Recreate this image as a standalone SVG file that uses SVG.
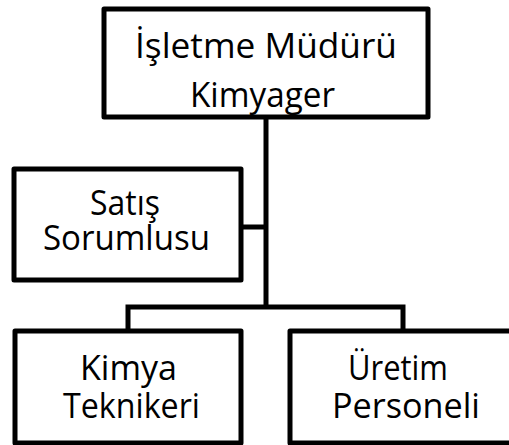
<svg xmlns="http://www.w3.org/2000/svg" width="509" height="445" viewBox="0 0 509 445">
<style>
.box{fill:#fff;stroke:#000;stroke-width:5;stroke-linejoin:round}
.conn{fill:none;stroke:#000;stroke-width:5}
text{font-family:"Open Sans","Noto Sans","Liberation Sans",sans-serif;font-size:35px;fill:#000;text-anchor:middle}
</style>
<rect width="509" height="445" fill="#fff"/>
<g id="connectors">
<path class="conn" d="M266 117V307M241 227H266M128 331V307H403V331"/>
</g>
<g id="isletme">
<rect class="box" x="104" y="9" width="324" height="108"/>
<text x="266" y="58" textLength="262" lengthAdjust="spacingAndGlyphs">İşletme Müdürü</text>
<text x="262.5" y="107" textLength="145" lengthAdjust="spacingAndGlyphs">Kimyager</text>
</g>
<g id="satis">
<rect class="box" x="14" y="169" width="227" height="111"/>
<text x="125" y="215" textLength="70" lengthAdjust="spacingAndGlyphs">Satış</text>
<text x="126.5" y="250" textLength="167" lengthAdjust="spacingAndGlyphs">Sorumlusu</text>
</g>
<g id="kimya">
<rect class="box" x="15" y="331" width="226" height="112"/>
<text x="128.5" y="380" textLength="97" lengthAdjust="spacingAndGlyphs">Kimya</text>
<text x="131.5" y="418" textLength="137" lengthAdjust="spacingAndGlyphs">Teknikeri</text>
</g>
<g id="uretim">
<rect class="box" x="290" y="331" width="226" height="112"/>
<text x="398" y="380" textLength="100" lengthAdjust="spacingAndGlyphs">Üretim</text>
<text x="406" y="418" textLength="148" lengthAdjust="spacingAndGlyphs">Personeli</text>
</g>
</svg>
